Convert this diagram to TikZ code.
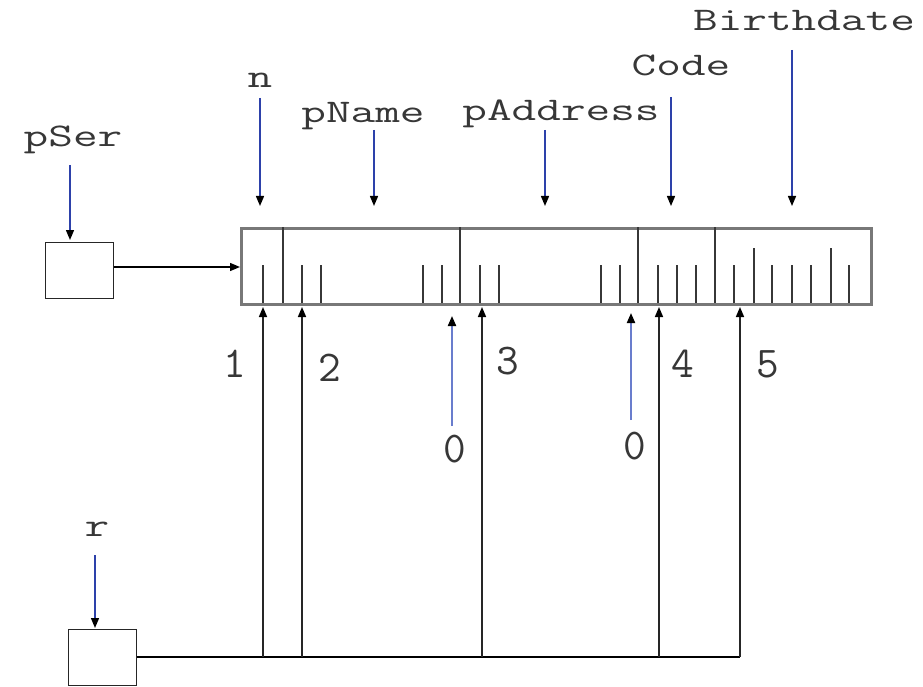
\documentclass[tikz,border=0pt]{standalone}
\usepackage{fontspec}
\usepackage{graphicx}
\usetikzlibrary{arrows.meta}

\definecolor{ptrblue}{RGB}{45,65,170}
\definecolor{zeroblue}{RGB}{105,125,205}
\definecolor{frame}{RGB}{120,120,120}
\definecolor{ink}{RGB}{55,55,55}

% wide typewriter text for the field names
\newcommand\widett[1]{\scalebox{1.45}[1]{#1}}

\tikzset{
  fieldname/.style={anchor=base, inner sep=0pt, text=ink,
    font=\fontsize{33}{33}\selectfont\ttfamily},
  offset/.style={anchor=base, inner sep=0pt, text=ink,
    font=\fontsize{44}{44}\selectfont\ttfamily},
  cell/.style={draw=black!85, line width=1.4pt, fill=white, inner sep=0pt},
  record/.style={draw=frame, line width=2.5pt, inner sep=0pt},
  divider/.style={draw=ink, line width=1.8pt},
  tick/.style={draw=ink, line width=1.6pt},
  tip/.style={-{Triangle[length=10pt,width=8pt,color=black]}},
  namearrow/.style={tip, draw=ptrblue, line width=1.4pt},
  zeroarrow/.style={tip, draw=zeroblue, line width=2pt},
  link/.style={draw=black, line width=1.4pt},
  uplink/.style={tip, draw=black!85, line width=1.6pt},
}

\begin{document}
\begin{tikzpicture}[x=1pt, y=-1pt]
  \useasboundingbox (0,0) rectangle (923,687);

  % the record in memory
  \node[record, minimum width=630pt, minimum height=76pt, anchor=north west]
    (rec) at (240,227) {};
  % field boundaries
  \foreach \x in {283,460,638,715}
    \draw[divider] (\x,227) -- (\x,303);
  % byte ticks
  \foreach \x in {263,302,321,423,442,480,499,601,620,658,677,696,734,772,792,811,849}
    \draw[tick] (\x,265) -- (\x,303);
  \foreach \x in {754,831}
    \draw[tick] (\x,248) -- (\x,303);

  % pointer variables
  \node[cell, minimum width=68pt, minimum height=56pt, anchor=north west]
    (pser) at (45,242) {};
  \node[cell, minimum width=68pt, minimum height=56pt, anchor=north west]
    (r) at (68,629) {};

  % names
  \node[fieldname] (lpser)  at (73,147)  {\widett{pSer}};
  \node[fieldname] (ln)     at (260,88)  {\widett{n}};
  \node[fieldname] (lpname) at (363,123) {\widett{pName}};
  \node[fieldname] (lpaddr) at (561,121) {\widett{pAddress}};
  \node[fieldname] (lcode)  at (681,76)  {\widett{Code}};
  \node[fieldname] (lbirth) at (804,31)  {\widett{Birthdate}};
  \node[fieldname] (lr)     at (97,536)  {\widett{r}};

  % name arrows
  \coordinate (an0) at (70,165);  \coordinate (an1) at (70,240);
  \coordinate (bn0) at (260,98);  \coordinate (bn1) at (260,206);
  \coordinate (cn0) at (374,130); \coordinate (cn1) at (374,206);
  \coordinate (dn0) at (545,130); \coordinate (dn1) at (545,206);
  \coordinate (en0) at (671,97);  \coordinate (en1) at (671,206);
  \coordinate (fn0) at (792,50);  \coordinate (fn1) at (792,206);
  \coordinate (gn0) at (95,555);  \coordinate (gn1) at (95,628);
  \draw[namearrow] (an0) -- (an1);
  \draw[namearrow] (bn0) -- (bn1);
  \draw[namearrow] (cn0) -- (cn1);
  \draw[namearrow] (dn0) -- (dn1);
  \draw[namearrow] (en0) -- (en1);
  \draw[namearrow] (fn0) -- (fn1);
  \draw[namearrow] (gn0) -- (gn1);

  % pSer points at the record
  \coordinate (pserin) at (240,267);
  \draw[tip, link] (pser.east |- pserin) -- (pserin);

  % r and its offsets into the record
  \coordinate (bus) at (740,657);
  \draw[link] (r.east |- bus) -- (bus);
  \foreach \x/\k in {263/1,302/2,482/3,659/4,740/5} {
    \coordinate (foot\k) at (\x,657);
    \coordinate (head\k) at (\x,307);
    \draw[uplink] (foot\k) -- (head\k);
  }

  % string terminators
  \coordinate (z1a) at (452,426); \coordinate (z1b) at (452,316);
  \coordinate (z2a) at (631,420); \coordinate (z2b) at (631,313);
  \draw[zeroarrow] (z1a) -- (z1b);
  \draw[zeroarrow] (z2a) -- (z2b);

  % offset labels
  \node[offset] (o1) at (235,377) {1};
  \node[offset] (o2) at (330,381) {2};
  \node[offset] (o3) at (508,374) {3};
  \node[offset] (o4) at (683,377) {4};
  \node[offset] (o5) at (768,377) {5};
  \node[offset] (z1) at (455,462) {0};
  \node[offset] (z2) at (635,459) {0};
\end{tikzpicture}
\end{document}
